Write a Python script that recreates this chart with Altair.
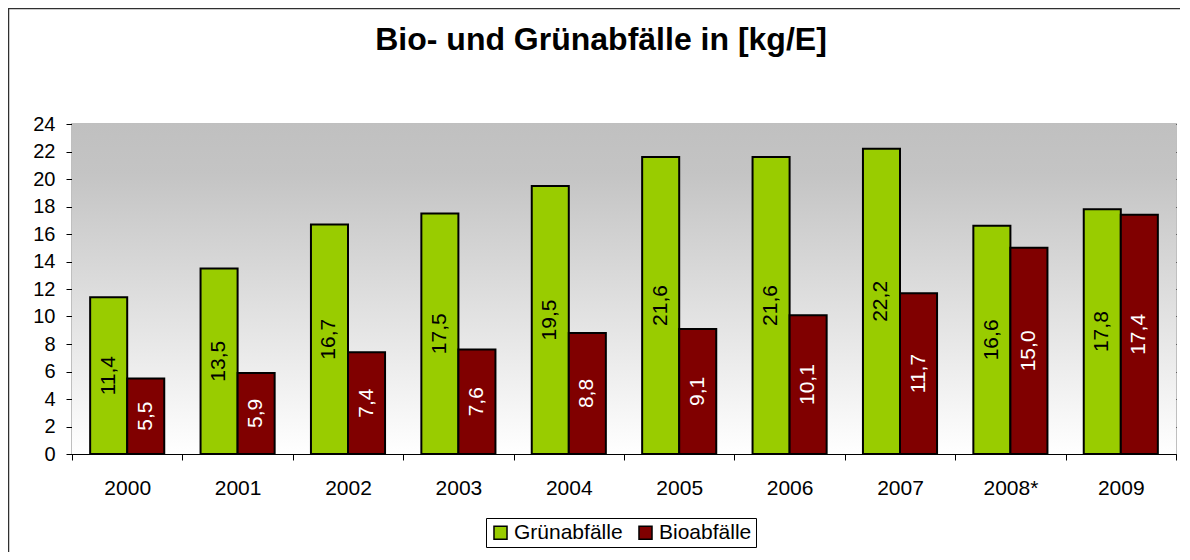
import altair as alt
import pandas as pd

years = ["2000", "2001", "2002", "2003", "2004", "2005", "2006", "2007", "2008*", "2009"]
gruen = [11.4, 13.5, 16.7, 17.5, 19.5, 21.6, 21.6, 22.2, 16.6, 17.8]
bio = [5.5, 5.9, 7.4, 7.6, 8.8, 9.1, 10.1, 11.7, 15.0, 17.4]
series = ["Grünabfälle", "Bioabfälle"]
colors = ["#99CC00", "#800000"]

rows = []
for i, y in enumerate(years):
    rows.append({"Jahr": y, "Art": series[0], "Wert": gruen[i]})
    rows.append({"Jahr": y, "Art": series[1], "Wert": bio[i]})
df = pd.DataFrame(rows)

W, H = 1104, 330
FONT = "Liberation Sans"

x_enc = alt.X("Jahr:N", sort=years,
              scale=alt.Scale(paddingInner=0, paddingOuter=0),
              axis=alt.Axis(title=None, labelAngle=0, tickBand="extent",
                            labelFontSize=21, labelPadding=17, tickSize=6,
                            tickColor="black", domainColor="black",
                            labelColor="black"))
xoff = alt.XOffset("Art:N", sort=series,
                   scale=alt.Scale(paddingInner=0, paddingOuter=0.49))

y_axis = alt.Axis(title=None, values=list(range(0, 25, 2)),
                  labelFontSize=20, labelPadding=11, tickSize=6,
                  labelOverlap=False, labelBound=False,
                  tickColor="black", domainColor="black",
                  labelColor="black", grid=True, gridColor="black",
                  gridWidth=1, gridOpacity=1)
y_scale = alt.Scale(domain=[0, 24])

bg = alt.Chart(pd.DataFrame({"a": [0]})).mark_rect(
    color=alt.LinearGradient(
        gradient="linear", x1=0, y1=0, x2=0, y2=1,
        stops=[alt.GradientStop(offset=0, color="#c0c0c0"),
               alt.GradientStop(offset=0.15, color="#c4c4c4"),
               alt.GradientStop(offset=1, color="#ffffff")])
).encode(x=alt.value(0), x2=alt.value(W), y=alt.value(0), y2=alt.value(H))

frame = alt.Chart(pd.DataFrame({"a": [0]})).mark_rect(
    fill=None, stroke="#303030", strokeWidth=1.5
).encode(x=alt.value(-63.5), x2=alt.value(W + 60), y=alt.value(-115.5), y2=alt.value(H + 150))

base = alt.Chart(df)

bars = base.mark_bar(stroke="black", strokeWidth=2).encode(
    x=x_enc,
    xOffset=xoff,
    y=alt.Y("Wert:Q", scale=y_scale, axis=y_axis),
    color=alt.Color("Art:N", sort=series,
                    scale=alt.Scale(domain=series, range=colors),
                    legend=alt.Legend(title=None, orient="none", legendX=414, legendY=394,
                                      direction="horizontal", symbolType="square",
                                      symbolSize=170, symbolStrokeColor="black",
                                      symbolStrokeWidth=1.5, labelFontSize=21,
                                      labelColor="black", strokeColor="black",
                                      padding=4, columnPadding=12, labelOffset=3,
                                      fillColor="white")),
)

labels = base.transform_calculate(
    mid="datum.Wert / 2",
    txt="replace(format(datum.Wert, '.1f'), '.', ',')"
).mark_text(angle=270, align="center", baseline="middle", fontSize=21).encode(
    x=x_enc,
    xOffset=xoff,
    y=alt.Y("mid:Q", scale=y_scale, axis=y_axis),
    text="txt:N",
    color=alt.condition(alt.datum.Art == "Bioabfälle", alt.value("white"), alt.value("black")),
)

chart = alt.layer(bg, bars, labels, frame).properties(
    width=W, height=H,
    title=alt.TitleParams("Bio- und Grünabfälle in [kg/E]", fontSize=32, fontWeight="bold",
                          anchor="middle", dx=-23, offset=0, dy=74, baseline="alphabetic",
                          color="black", font=FONT),
    autosize="none",
    padding={"left": 64, "top": 116, "right": 4, "bottom": 98},
).configure(font=FONT).configure_view(
    stroke="#bfbfbf", strokeWidth=2
).configure_axisY(labelOverlap=False)

chart.save("out.html", embed_options={"renderer": "svg", "actions": False})
